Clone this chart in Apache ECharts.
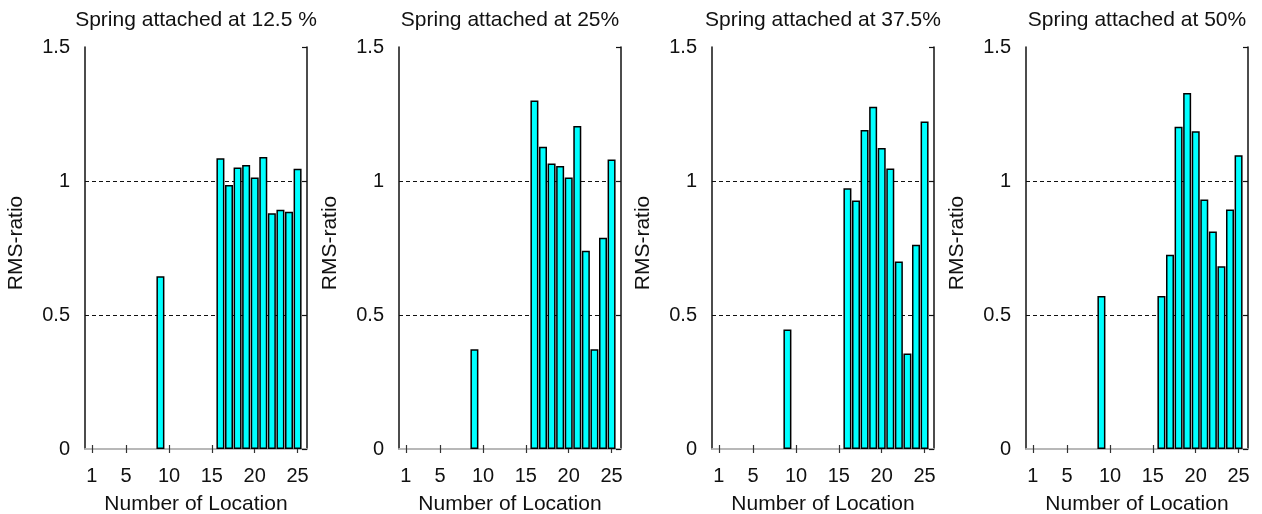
<!DOCTYPE html>
<html>
<head>
<meta charset="utf-8">
<script src="https://cdn.jsdelivr.net/npm/echarts@6/dist/echarts.min.js"></script>
<style>
html,body{margin:0;padding:0;background:#fff;}
#c{width:1262px;height:514px;}
</style>
</head>
<body>
<div id="c"></div>
<script>
// ---- data ----
const titles = ['Spring attached at 12.5 %', 'Spring attached at 25%', 'Spring attached at 37.5%', 'Spring attached at 50%'];
const locations = [9, 16, 17, 18, 19, 20, 21, 22, 23, 24, 25];
const spring125 = [0.645, 1.085, 0.985, 1.05, 1.06, 1.013, 1.09, 0.88, 0.893, 0.885, 1.046];
const spring25  = [0.372, 1.30, 1.128, 1.065, 1.056, 1.013, 1.205, 0.74, 0.372, 0.788, 1.08];
const spring375 = [0.446, 0.973, 0.927, 1.19, 1.277, 1.123, 1.047, 0.70, 0.356, 0.762, 1.222];
const spring50  = [0.571, 0.571, 0.725, 1.202, 1.328, 1.186, 0.931, 0.812, 0.682, 0.894, 1.096];
const seriesValues = [spring125, spring25, spring375, spring50];
const xTickValues = [1, 5, 10, 15, 20, 25];

// ---- layout ----
const gridLefts = [85, 399, 712, 1026];
const gridWidth = 222;
const gridTop = 47;
const gridHeight = 402;
const FONT = '"Liberation Sans", Arial, Helvetica, sans-serif';
const xMin = 0.2, xMax = 26.1;

const option = {
  animation: false,
  backgroundColor: '#ffffff',
  title: [], grid: [], xAxis: [], yAxis: [], series: []
};

seriesValues.forEach((vals, i) => {
  option.grid.push({left: gridLefts[i], top: gridTop, width: gridWidth, height: gridHeight,
    containLabel: false, outerBoundsMode: 'none', show: false});
  option.title.push({
    text: titles[i], left: gridLefts[i] + gridWidth / 2, top: 10, textAlign: 'center', padding: 0,
    textStyle: {fontFamily: FONT, fontSize: 21, fontWeight: 'normal', color: '#111'}
  });
  // bottom x axis
  option.xAxis.push({
    type: 'value', gridIndex: i, position: 'bottom', min: xMin, max: xMax,
    name: 'Number of Location', nameLocation: 'middle', nameGap: 45,
    nameTextStyle: {fontFamily: FONT, fontSize: 21, color: '#111'},
    axisLine: {show: true, lineStyle: {color: '#b4b4b4', width: 1.5}},
    axisTick: {show: true, inside: true, length: 4, customValues: xTickValues, lineStyle: {color: '#333', width: 1.2}},
    axisLabel: {show: true, customValues: xTickValues, margin: 17, fontFamily: FONT, fontSize: 20, color: '#111'},
    splitLine: {show: false}
  });
  // top x axis (frame)
  option.xAxis.push({
    type: 'value', gridIndex: i, position: 'top', min: xMin, max: xMax,
    axisLine: {show: true, lineStyle: {color: '#b4b4b4', width: 1.5}},
    axisTick: {show: true, inside: true, length: 4, customValues: xTickValues, lineStyle: {color: '#333', width: 1.2}},
    axisLabel: {show: false},
    splitLine: {show: false}
  });
  // left y axis
  option.yAxis.push({
    type: 'value', gridIndex: i, position: 'left', min: 0, max: 1.5, interval: 0.5,
    name: 'RMS-ratio', nameLocation: 'middle', nameGap: 58,
    nameTextStyle: {fontFamily: FONT, fontSize: 21, color: '#111', padding: [0, 0, 0, 10]},
    axisLine: {show: true, lineStyle: {color: '#111', width: 1.5}},
    axisTick: {show: false},
    axisLabel: {show: true, margin: 15, fontFamily: FONT, fontSize: 20, color: '#111',
      formatter: v => String(v)},
    splitLine: {show: true, showMinLine: false, showMaxLine: false,
      lineStyle: {color: '#111', type: [4, 3], width: 1.2}}
  });
  // right y axis (frame)
  option.yAxis.push({
    type: 'value', gridIndex: i, position: 'right', min: 0, max: 1.5, interval: 0.5,
    axisLine: {show: true, lineStyle: {color: '#111', width: 1.5}},
    axisTick: {show: true, inside: true, length: 5, lineStyle: {color: '#111', width: 1.2}},
    axisLabel: {show: false},
    splitLine: {show: false}
  });
  option.series.push({
    type: 'bar', xAxisIndex: 2 * i, yAxisIndex: 2 * i,
    data: locations.map((x, k) => [x, vals[k]]),
    barWidth: 8,
    itemStyle: {color: '#00ffff', borderColor: '#000', borderWidth: 1.5},
    z: 3
  });
});

const chart = echarts.init(document.getElementById('c'), null, {renderer: 'canvas'});
chart.setOption(option);
</script>
</body>
</html>
